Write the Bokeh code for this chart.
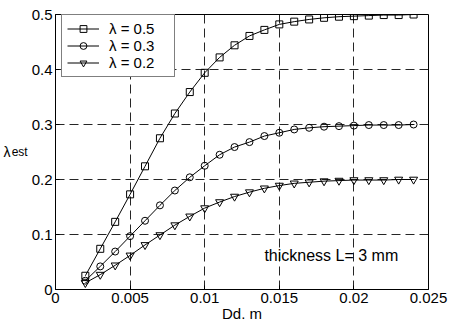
from bokeh.plotting import figure
from bokeh.models import Range1d, FixedTicker, Legend, LegendItem, Label, LinearAxis
from bokeh.embed import file_html
from bokeh.resources import INLINE

# ---- data ----
dd = [0.002, 0.003, 0.004, 0.005, 0.006, 0.007, 0.008, 0.009, 0.010, 0.011, 0.012,
      0.013, 0.014, 0.015, 0.016, 0.017, 0.018, 0.019, 0.020, 0.021, 0.022, 0.023, 0.024]
lam_05 = [0.025, 0.074, 0.123, 0.173, 0.224, 0.275, 0.320, 0.359, 0.394, 0.422, 0.444,
          0.461, 0.472, 0.482, 0.487, 0.491, 0.494, 0.496, 0.497, 0.498, 0.499, 0.499, 0.500]
lam_03 = [0.016, 0.042, 0.069, 0.097, 0.125, 0.153, 0.180, 0.204, 0.225, 0.245, 0.259,
          0.268, 0.279, 0.285, 0.291, 0.294, 0.296, 0.297, 0.298, 0.299, 0.299, 0.299, 0.300]
lam_02 = [0.012, 0.027, 0.044, 0.062, 0.081, 0.099, 0.117, 0.133, 0.148, 0.159, 0.169,
          0.177, 0.184, 0.189, 0.193, 0.195, 0.197, 0.198, 0.199, 0.199, 0.199, 0.200, 0.200]
series_labels = ["λ = 0.5", "λ = 0.3", "λ = 0.2"]
x_ticks = [0, 0.005, 0.01, 0.015, 0.02, 0.025]
x_tick_labels = ["0", "0.005", "0.01", "0.015", "0.02", "0.025"]
y_ticks = [0, 0.1, 0.2, 0.3, 0.4, 0.5]
y_tick_labels = ["0", "0.1", "0.2", "0.3", "0.4", "0.5"]
x_title = "Dd. m"
y_title_main = "λ"
y_title_sub = "est"
note = "thickness L= 3 mm"

FONT = "Liberation Sans"

p = figure(width=450, height=324, output_backend="svg", toolbar_location=None,
           x_range=Range1d(0, 0.025), y_range=Range1d(0, 0.5),
           min_border_left=55, min_border_right=22, min_border_top=14, min_border_bottom=35)
p.background_fill_color = "white"
p.border_fill_color = "white"
p.outline_line_color = "black"
p.outline_line_width = 1

# axes
p.xaxis.ticker = FixedTicker(ticks=x_ticks)
p.yaxis.ticker = FixedTicker(ticks=y_ticks)
p.xaxis.major_label_overrides = {t: l for t, l in zip(x_ticks, x_tick_labels)}
p.yaxis.major_label_overrides = {t: l for t, l in zip(y_ticks, y_tick_labels)}
for ax in (p.xaxis, p.yaxis):
    ax.major_tick_in = 4
    ax.major_tick_out = 0
    ax.minor_tick_line_color = None
    ax.axis_line_color = "black"
    ax.major_tick_line_color = "black"
    ax.major_label_text_font = FONT
    ax.major_label_text_font_size = "15px"
    ax.major_label_text_color = "black"
    ax.major_label_standoff = 3

p.xaxis.axis_label = x_title
p.xaxis.axis_label_text_font = FONT
p.xaxis.axis_label_text_font_size = "15px"
p.xaxis.axis_label_text_font_style = "normal"
p.xaxis.axis_label_text_color = "black"
p.xaxis.axis_label_standoff = -1

# y title: subscript part on the inner axis, main symbol on an extra outer axis
yax = p.yaxis[0]
yax.axis_label = y_title_sub
yax.axis_label_text_font = FONT
yax.axis_label_text_font_size = "12px"
yax.axis_label_text_font_style = "normal"
yax.axis_label_text_color = "black"
yax.axis_label_standoff = 1
yax.axis_label_text_baseline = "top"

outer = LinearAxis(ticker=FixedTicker(ticks=[]), axis_label=y_title_main,
                   axis_label_text_font=FONT, axis_label_text_font_size="14px",
                   axis_label_text_font_style="normal", axis_label_text_color="black",
                   axis_label_standoff=-2, axis_line_color=None, major_tick_line_color=None,
                   minor_tick_line_color=None, major_tick_in=0, major_tick_out=0,
                   major_label_standoff=0, axis_label_text_baseline="middle")
p.add_layout(outer, "left")
for ax in (yax, outer):
    try:
        ax.axis_label_orientation = "horizontal"
    except Exception:
        pass

# grid
p.grid.grid_line_color = "black"
p.grid.grid_line_dash = "9 5"
p.grid.grid_line_alpha = 0.85
p.grid.grid_line_width = 1

# series
items = []
for ys, marker, msize, lab in zip([lam_05, lam_03, lam_02],
                                  ["square", "circle", "inverted_triangle"],
                                  [7, 7, 8], series_labels):
    ln = p.line(dd, ys, line_color="black", line_width=1)
    sc = p.scatter(dd, ys, marker=marker, size=msize, line_color="black",
                   line_width=1, fill_color=None)
    items.append(LegendItem(label=lab, renderers=[ln, sc]))

legend = Legend(items=items, location=(6, 212), padding=5, spacing=0,
                label_height=17, glyph_height=17, glyph_width=32, label_standoff=10,
                label_width=60, margin=0,
                label_text_font=FONT, label_text_font_size="15px", label_text_color="black",
                border_line_color="black", border_line_width=1,
                background_fill_color="white", background_fill_alpha=1)
p.add_layout(legend)

# note inside the frame
p.add_layout(Label(x=0.0140, y=0.062, text=note, text_font=FONT, text_font_size="16px",
                   text_color="black", text_align="left", text_baseline="middle"))

open("out.html", "w").write(file_html(p, INLINE))
